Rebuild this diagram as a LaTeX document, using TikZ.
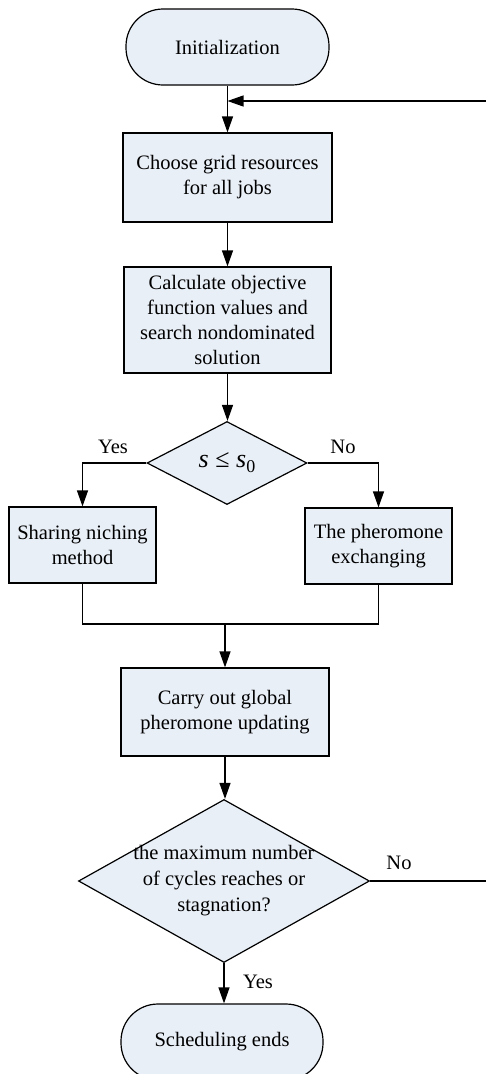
\documentclass[tikz,border=0pt]{standalone}
\usepackage{fontspec}
\setmainfont{Liberation Serif}
\usetikzlibrary{arrows.meta,shapes.geometric}
\definecolor{boxfill}{RGB}{233,239,247}
\tikzset{
  base/.style={draw=black, line width=1.2pt, fill=boxfill,
    font=\fontsize{20.5}{25}\selectfont, align=center, inner sep=0pt},
  proc/.style={base, rectangle},
  term/.style={base, rectangle, rounded corners=37pt},
  decision/.style={base, diamond, inner sep=0pt},
  flow/.style={line width=1.2pt, -{Triangle[length=16pt,width=11pt]}},
  link/.style={line width=1.2pt},
  tag/.style={font=\fontsize{20.5}{25}\selectfont, inner sep=0pt}
}
\begin{document}
\begin{tikzpicture}[x=1pt, y=-1pt]
\useasboundingbox (0,0) rectangle (486,1074);

% main column
\node[term, minimum width=203pt, minimum height=76pt] (init) at (227.5,47) {Initialization};
\node[proc, minimum width=209pt, minimum height=89pt] (choose) at (227.5,177.5)
  {Choose grid resources\\for all jobs};
\node[proc, minimum width=207pt, minimum height=106pt] (calc) at (227.5,320)
  {Calculate objective\\function values and\\search nondominated\\solution};
\node[decision, minimum width=160pt, minimum height=83pt] (test) at (227,463)
  {{\fontsize{26}{28}\selectfont\itshape s\upshape\ ≤ \itshape s\upshape\raisebox{-5pt}{\fontsize{18}{18}\selectfont 0}}};

% two branches
\node[proc, minimum width=147pt, minimum height=76pt] (share) at (82.5,545)
  {Sharing niching\\method};
\node[proc, minimum width=147pt, minimum height=76pt] (exch) at (378.5,546)
  {The pheromone\\exchanging};

\node[proc, minimum width=208pt, minimum height=88pt] (update) at (225,712)
  {Carry out global\\pheromone updating};
\node[decision, minimum width=291pt, minimum height=163pt] (stop) at (224,881) {};
\node[tag, align=center, font=\fontsize{20.5}{26}\selectfont] (stoptext) at (224,881)
  {the maximum number\\of cycles reaches or\\stagnation?};
\node[term, minimum width=202pt, minimum height=76pt] (finish) at (222,1042) {Scheduling ends};

% branch labels
\node[tag] (yes1) at (113,447) {Yes};
\node[tag] (no1) at (343,447) {No};
\node[tag] (no2) at (399,863) {No};
\node[tag] (yes2) at (258,982) {Yes};

% helper points
\coordinate (loopin) at (227.5,101);
\coordinate (rim) at (489,101);
\coordinate (merge) at (225,624);

% connectors
\draw[flow] (init.south) -- (init.south |- choose.north);
\draw[flow] (choose.south) -- (choose.south |- calc.north);
\draw[flow] (calc.south) -- (calc.south |- test.north);
\draw[flow] (test.west) -| (share.north);
\draw[flow] (test.east) -| (exch.north);
\draw[link] (share.south) |- (merge) -| (exch.south);
\draw[flow] (merge) -- (merge |- update.north);
\draw[flow] (update.south) -- (update.south |- stop.north);
\draw[flow] (stop.south) -- (stop.south |- finish.north);
\draw[flow] (stop.east) -| (rim) -- (loopin);
\end{tikzpicture}
\end{document}
